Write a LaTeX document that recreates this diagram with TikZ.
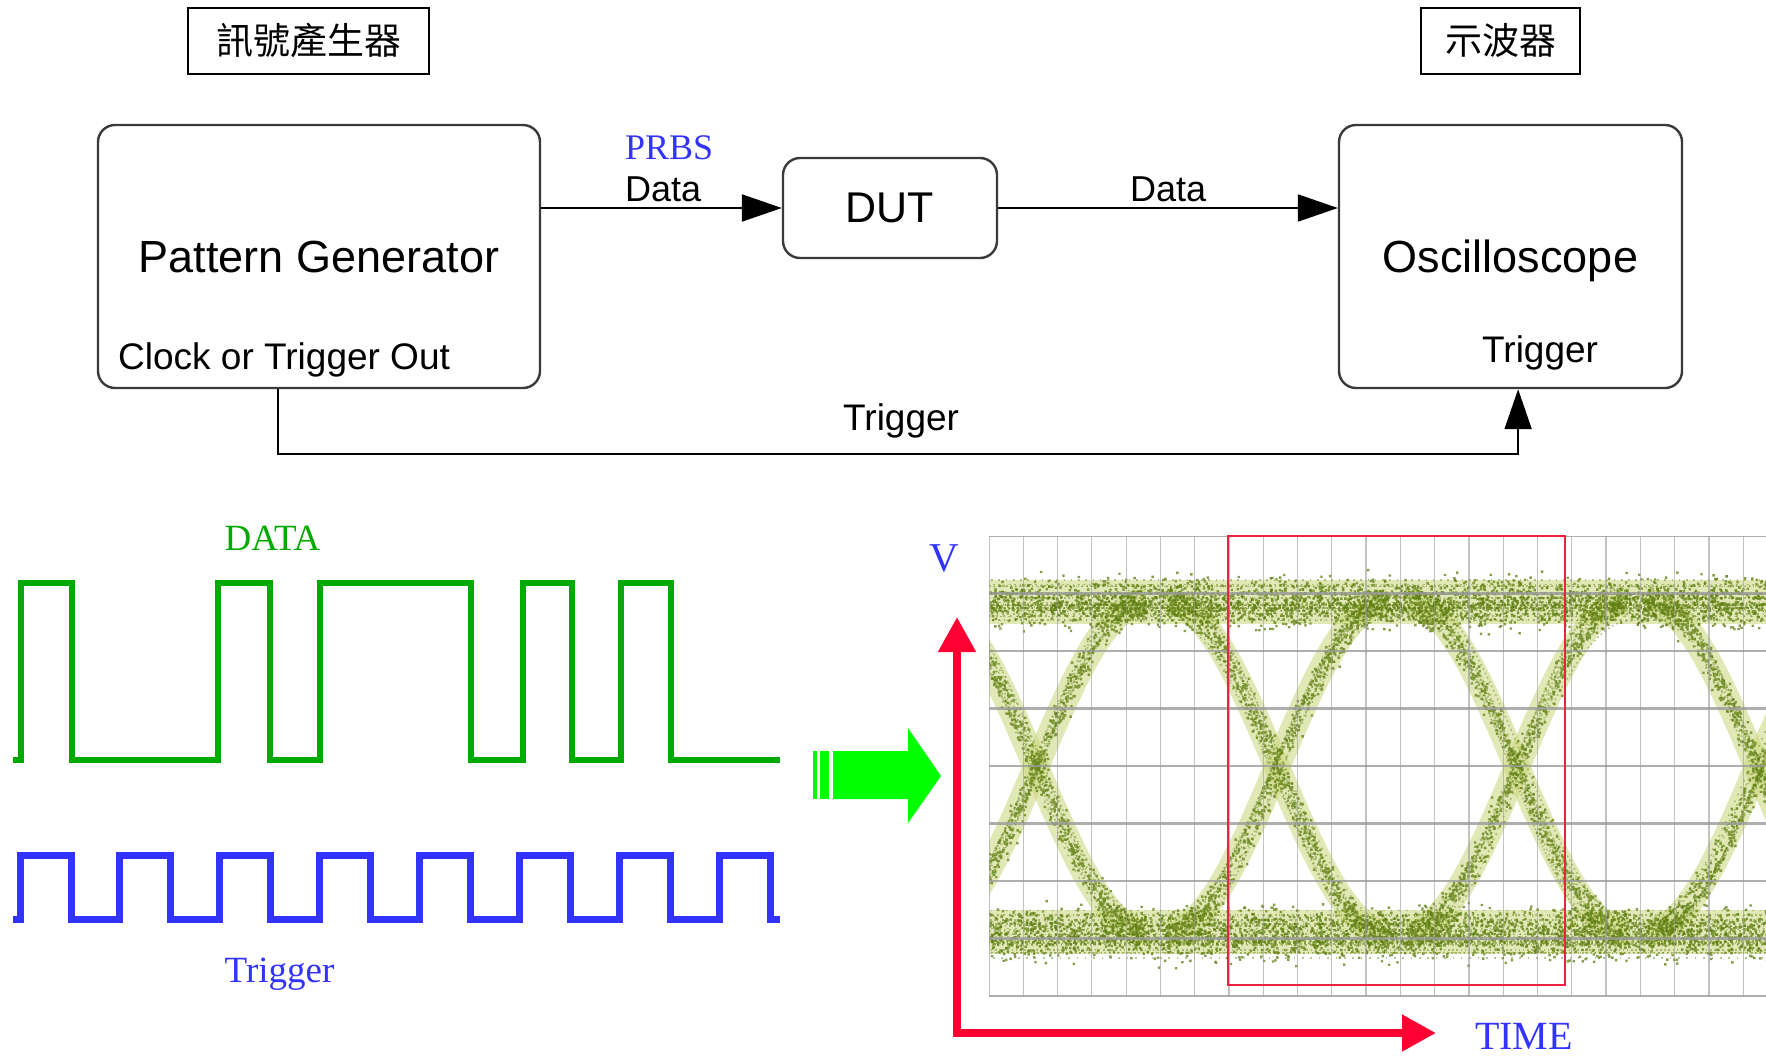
\documentclass[tikz,border=0pt]{standalone}
\usepackage{fontspec}
\setmainfont{Liberation Sans}
\newfontfamily\serifface{Liberation Serif}
\newfontfamily\cjkface{Noto Sans CJK TC}
\usetikzlibrary{arrows.meta,positioning,calc}
\definecolor{ink}{HTML}{000000}
\definecolor{boxline}{HTML}{3A3A3A}
\definecolor{labelblue}{HTML}{3333FF}
\definecolor{datagreen}{HTML}{00AA00}
\definecolor{bitgreen}{HTML}{00FF00}
\definecolor{axisred}{HTML}{FF0033}
\definecolor{winred}{HTML}{EE2240}
\definecolor{eyedot}{HTML}{5F7F12}
\definecolor{eyebase}{HTML}{C9D67A}
\definecolor{gridgray}{HTML}{9A9A9A}
\newcommand\fs[1]{\fontsize{#1}{#1}\selectfont}
\tikzset{devbox/.style={draw=boxline,line width=2.4pt,rounded corners=17pt,align=center,
 inner sep=0pt,text depth=0pt,font=\fs{45}},
 tagbox/.style={draw=ink,line width=2pt,inner sep=0pt,font=\cjkface\fs{37}},
 sig/.style={inner sep=0pt,anchor=base west,font=\fs{37}},
 bluetag/.style={inner sep=0pt,anchor=base west,text=labelblue,font=\serifface\fs{37}},
 flowarrow/.style={-{Triangle[length=40pt,width=27pt]},draw=ink,line width=2pt},
 datawave/.style={draw=datagreen,line width=6.5pt,line join=miter},
 trigwave/.style={draw=labelblue,line width=7pt,line join=miter},
 axisline/.style={draw=axisred,line width=8pt,line join=miter},
 eyeglow/.style={draw=eyebase,line width=26pt,opacity=0.55},
 eyespeck/.style={fill=eyedot,opacity=0.75},
 eyestreak/.style={draw=eyedot,line width=1.6pt,opacity=0.45},
 gridh/.style={draw=gridgray,line width=2.6pt,opacity=0.8},
 gridv/.style={draw=gridgray,line width=1.2pt,opacity=0.6}}

\begin{document}
\begin{tikzpicture}[x=1pt,y=-1pt]
\useasboundingbox (0,0) rectangle (1766,1055);
\pgfmathsetseed{7}
\node[tagbox,minimum width=241pt,minimum height=66pt] (gentag) at (308.5,40.5) {訊號產生器};
\node[tagbox,minimum width=159pt,minimum height=66pt] (scopetag) at (1500.5,40.5) {示波器};
\node[devbox,minimum width=442pt,minimum height=263pt] (pg) at (319,256.5) {Pattern Generator};
\node[devbox,minimum width=214pt,minimum height=100pt,font=\fs{43}] (dut) at (890,208) {DUT};
\node[devbox,minimum width=343pt,minimum height=263pt] (osc) at (1510.5,256.5) {Oscilloscope};
\node[sig] (clklbl) at (118,369) {Clock or Trigger Out};
\node[sig] (osctrig) at (1482,362) {Trigger};
\node[bluetag,font=\serifface\fs{36}] (prbs) at (625,159) {PRBS};
\node[sig,font=\fs{36}] (datain) at (625,201) {Data};
\node[sig,font=\fs{36}] (dataout) at (1130,201) {Data};
\node[sig] (triglbl) at (843,430) {Trigger};
\draw[flowarrow] (pg.east |- dut.west) -- (dut.west);
\draw[flowarrow] (dut.east) -- (dut.east -| osc.west);
\coordinate (clkout) at ($(pg.south west)!0.408!(pg.south east)$);
\coordinate (trigin) at ($(osc.south west)!0.522!(osc.south east)$);
\draw[flowarrow] (clkout) -- ++(0,65) -| (trigin);

\node[bluetag,text=datagreen] (datatitle) at (224.5,550) {DATA};
\draw[datawave] (13,760) -- (21,760) -- (21,583) -- (72,583) -- (72,760) -- (218,760) -- (218,583)
 -- (270,583) -- (270,760) -- (320,760) -- (320,583) -- (471,583) -- (471,760) -- (523,760)
 -- (523,583) -- (572,583) -- (572,760) -- (621,760) -- (621,583) -- (671,583) -- (671,760) -- (780,760);
\draw[trigwave] (13,919) foreach \k in {0,...,7} { -- ({20+99.9*\k},919) -- ({20+99.9*\k},855)
 -- ({71+99.9*\k},855) -- ({71+99.9*\k},919) } -- (780,919);
\node[bluetag] (trigtitle) at (224.5,982) {Trigger};

\fill[bitgreen] (833,751) -- (908,751) -- (908,728) -- (941,776) -- (908,823) -- (908,799) -- (833,799) -- cycle;
\fill[bitgreen] (813,751) rectangle (817,799);
\fill[bitgreen] (820,751) rectangle (829,799);

\begin{scope}
\clip (989,536) rectangle (1766,996);
\foreach \lv in {602,932} \draw[eyeglow,line width=44pt] (989,\lv) -- (1766,\lv);
\foreach \xc in {1036,1277,1517,1757} {
 \draw[eyeglow] ({\xc-110},602) .. controls ({\xc-30},602) and ({\xc+30},932) .. ({\xc+110},932);
 \draw[eyeglow] ({\xc-110},932) .. controls ({\xc-30},932) and ({\xc+30},602) .. ({\xc+110},602);
}
\foreach \lv in {602,932} \foreach \i in {1,...,26} {
 \pgfmathsetmacro\dy{(rand+rand+rand)*11}
 \pgfmathsetmacro\ph{7*rnd}
 \pgfmathsetmacro\gap{2+5*rnd}
 \draw[eyestreak,dash pattern=on 1.6pt off \gap pt,dash phase=\ph pt] (989,{\lv+(\dy)}) -- (1766,{\lv+(\dy)});
}
\foreach \xc in {1036,1277,1517,1757} \foreach \dir in {1,-1} \foreach \i in {1,...,12} {
 \pgfmathsetmacro\dx{(rand+rand)*5}
 \pgfmathsetmacro\da{(rand+rand)*11}
 \pgfmathsetmacro\db{(rand+rand)*11}
 \pgfmathsetmacro\ph{7*rnd}
 \pgfmathsetmacro\gap{2+5*rnd}
 \draw[eyestreak,dash pattern=on 1.6pt off \gap pt,dash phase=\ph pt]
  ({\xc-110+\dx},{767-(\dir)*165+\da}) .. controls ({\xc-30+\dx},{767-(\dir)*165+\da})
  and ({\xc+30+\dx},{767+(\dir)*165+\db}) .. ({\xc+110+\dx},{767+(\dir)*165+\db});
}
\foreach \lv in {602,932} \foreach \c in {1,...,5}
 \fill[eyespeck] foreach \i in {1,...,500} { ({989+777*rnd},{\lv+(rand+rand+rand)*12}) rectangle ++(2.4,2.4) };
\foreach \xc in {1036,1277,1517,1757} \foreach \dir in {1,-1}
 \fill[eyespeck] foreach \i [evaluate=\i as \tt using rnd, evaluate=\i as \nz using (rand+rand)*10,
  evaluate=\i as \jx using rand*5] in {1,...,450}
  { ({\xc-110+220*\tt+\jx},{767-(\dir)*165*cos(180*\tt)+\nz}) rectangle ++(2.4,2.4) };
\foreach \k in {0,...,22} \draw[gridv] ({989+34.28*\k},536) -- ({989+34.28*\k},996);
\foreach \k in {0,...,8} \draw[gridh] (989,{536+57.5*\k}) -- (1766,{536+57.5*\k});
\end{scope}
\draw[winred,line width=2pt] (1228,536) rectangle (1565,985);

\coordinate (vtip) at (957,617);
\coordinate (orig) at (957,1033);
\coordinate (ttip) at (1436,1033);
\draw[axisline,{Triangle[length=35pt,width=36pt]}-{Triangle[length=34pt,width=35pt]}] (vtip) -- (orig) -- (ttip);
\node[bluetag,font=\serifface\fs{41}] (vlbl) at (929,571) {V};
\node[bluetag,font=\serifface\fs{40}] (timelbl) at (1475,1049) {TIME};
\end{tikzpicture}
\end{document}
